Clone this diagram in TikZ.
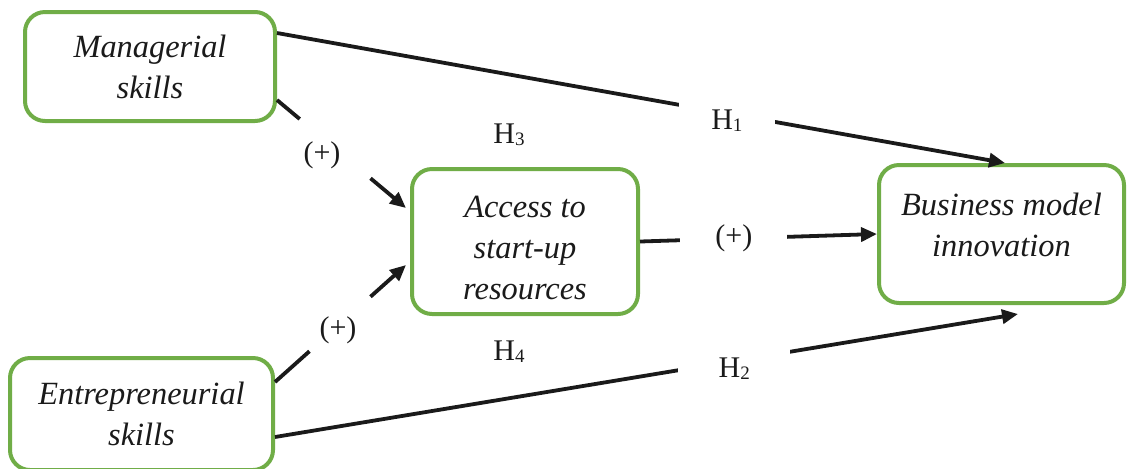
\documentclass[tikz,border=0pt]{standalone}
\usepackage{fontspec}
\setmainfont{Liberation Serif}[ItalicFont={Liberation Serif Italic},BoldFont={Liberation Serif Bold}]
\usetikzlibrary{arrows.meta,calc}
\definecolor{boxgreen}{HTML}{70AD47}
\definecolor{ink}{HTML}{1A1A1A}
\newcommand{\Hsub}[1]{H\raisebox{-1pt}{\fontsize{9.5}{9.5}\selectfont #1}}
\begin{document}
\begin{tikzpicture}[x=0.5pt,y=-0.5pt,
  box/.style={draw=boxgreen,line width=2pt,rounded corners=10pt,fill=white,inner sep=0pt},
  boxtext/.style={align=center,font=\fontsize{16.2}{20.5}\selectfont\itshape,inner sep=0pt,text=ink},
  conn/.style={line width=1.9pt,draw=ink},
  arr/.style={conn,-{Triangle[length=8pt,width=7pt]}},
  lab/.style={font=\fontsize{15}{15}\selectfont,inner sep=0pt,text=ink},
  gap/.style={fill=white,inner sep=0pt}]
\useasboundingbox (0,0) rectangle (1129,468);
% boxes
\node[box,minimum width=125pt,minimum height=54.5pt] (m) at (150,66.5) {};
\node[boxtext] (mt) at (m.center) {Managerial\\skills};
\node[box,minimum width=131.5pt,minimum height=56pt] (e) at (141.5,414) {};
\node[boxtext] (et) at (e.center) {Entrepreneurial\\skills};
\node[box,minimum width=113pt,minimum height=72.5pt] (a) at (525,241.5) {};
\node[boxtext] (at) at ([yshift=-3.25pt]a.center) {Access to\\start-up\\resources};
\node[box,minimum width=122.5pt,minimum height=69pt] (b) at (1001.5,234) {};
\node[boxtext] (bt) at ([yshift=4.5pt]b.center) {Business model\\innovation};
% H1
\draw[arr] ([yshift=16.75pt]m.east) -- node[pos=0.618,yshift=-3.5pt,gap,lab,minimum width=48pt,minimum height=22pt]{\Hsub{1}} ([xshift=1.75pt]b.north);
% H2
\draw[arr] ([yshift=-11.5pt]e.east) -- node[pos=0.618,yshift=-4pt,gap,lab,minimum width=56pt,minimum height=24pt]{\Hsub{2}} ([xshift=8.25pt,yshift=-4.5pt]b.south);
% access -> business
\draw[arr] (a.east) -- node[pos=0.396,gap,lab,minimum width=53.5pt,minimum height=16pt]{(+)} (b.west);
% managerial -> access
\coordinate (s1) at ([yshift=-16.75pt]m.east);
\coordinate (t1) at ([xshift=-2pt,yshift=16.75pt]a.west);
\draw[conn] (s1) -- ($(s1)!0.176!(t1)$);
\draw[arr] ($(s1)!0.725!(t1)$) -- (t1);
\node[lab] (p1) at (322,155) {(+)};
% entrepreneurial -> access
\coordinate (s2) at ([yshift=16pt]e.east);
\coordinate (t2) at ([xshift=-2pt,yshift=-11.75pt]a.west);
\draw[conn] (s2) -- ($(s2)!0.263!(t2)$);
\draw[arr] ($(s2)!0.729!(t2)$) -- (t2);
\node[lab] (p2) at (338,330) {(+)};
% H3, H4
\node[lab] (h3) at (509,135) {\Hsub{3}};
\node[lab] (h4) at (509,352) {\Hsub{4}};
\end{tikzpicture}
\end{document}
